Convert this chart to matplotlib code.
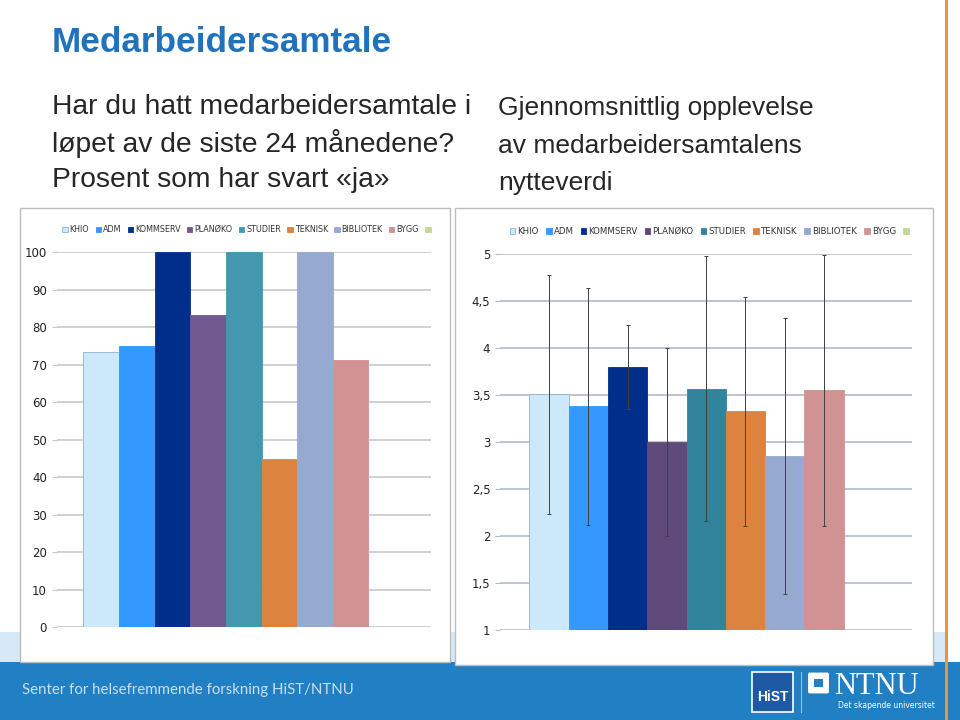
import numpy as np
import matplotlib.pyplot as plt
from matplotlib.patches import Rectangle, Patch, FancyBboxPatch
from matplotlib.ticker import FuncFormatter

W, H = 960, 720

categories = ['KHIO', 'ADM', 'KOMMSERV', 'PLANØKO', 'STUDIER', 'TEKNISK', 'BIBLIOTEK', 'BYGG', '']
pct_yes  = [73.3, 75.0, 100, 83.3, 100, 44.9, 100, 71.4, np.nan]
mean_use = [3.51, 3.38, 3.80, 3.00, 3.57, 3.33, 2.85, 3.55, np.nan]
sd_use   = [1.27, 1.26, 0.45, 1.00, 1.41, 1.22, 1.47, 1.44, np.nan]

colors1 = ['#cce8fb', '#3399ff', '#002e8a', '#725a91', '#4398b0', '#dc843f', '#95a9d1', '#d09292', '#c3d69b']
colors2 = ['#cce8fb', '#3399ff', '#002e8a', '#604a7b', '#31849b', '#dc843f', '#95a9d1', '#d09292', '#c3d69b']

narrow = ['Liberation Sans Narrow', 'DejaVu Sans']
plt.rcParams['font.family'] = ['Liberation Sans', 'DejaVu Sans']


def fx(x):
    return x / W


def fy(y):
    return 1 - y / H


fig = plt.figure(figsize=(9.6, 7.2), dpi=100)
fig.patch.set_facecolor('white')

# background bands
fig.add_artist(Rectangle((0, fy(662)), fx(945), (662 - 632) / H, transform=fig.transFigure,
                         facecolor='#d4e8f7', edgecolor='none', zorder=-3))
fig.add_artist(Rectangle((0, 0), 1, (720 - 662) / H, transform=fig.transFigure,
                         facecolor='#2180c4', edgecolor='none', zorder=-3))
fig.add_artist(Rectangle((fx(944.5), 0), 3 / W, 1, transform=fig.transFigure,
                         facecolor='#f0913a', edgecolor='none', zorder=5))

# chart frames
for x0, x1, y0, y1 in [(20, 450, 208, 662), (455, 933, 208, 665)]:
    fig.add_artist(Rectangle((fx(x0), fy(y1)), (x1 - x0) / W, (y1 - y0) / H, transform=fig.transFigure,
                             facecolor='white', edgecolor='#bdbdbd', lw=1, zorder=-2))

# texts
fig.text(fx(52), fy(42), 'Medarbeidersamtale', fontsize=25.3, weight='bold', color='#1f72bb', va='center')
left_lines = ['Har du hatt medarbeidersamtale i', 'løpet av de siste 24 månedene?', 'Prosent som har svart «ja»']
for s, y in zip(left_lines, [107, 143, 180]):
    fig.text(fx(52), fy(y), s, fontsize=20.3, color='#262626', va='center')
right_lines = ['Gjennomsnittlig opplevelse', 'av medarbeidersamtalens', 'nytteverdi']
for s, y in zip(right_lines, [108, 146, 183]):
    fig.text(fx(498), fy(y), s, fontsize=19, color='#262626', va='center')

x = np.arange(len(categories))


def style(ax, gridc, cols, legsize):
    ax.set_facecolor('white')
    for sp in ax.spines.values():
        sp.set_visible(False)
    ax.set_xticks([])
    ax.set_xlim(-1.25, 9.25)
    ax.grid(axis='y', color=gridc, lw=1.2)
    ax.set_axisbelow(True)
    ax.tick_params(axis='y', length=3.5, color=gridc, labelsize=8.5, pad=3.5, labelcolor='#222222')
    for lab in ax.get_yticklabels():
        lab.set_family(narrow)
    handles = [Patch(facecolor=c, edgecolor='#8fb4cc' if i == 0 else c, lw=0.6)
               for i, c in enumerate(cols)]
    leg = ax.legend(handles, categories, ncol=9, loc='center', bbox_to_anchor=(0.51, 1.06),
                    frameon=False, handlelength=0.65, handleheight=0.65, handletextpad=0.25,
                    columnspacing=0.8, prop={'family': narrow, 'size': legsize})
    for t in leg.get_texts():
        t.set_color('#333333')


# chart 1
ax1 = fig.add_axes([fx(56.7), fy(627.3), 374 / W, 375 / H])
ax1.bar(x, pct_yes, width=1.0, color=colors1, edgecolor=['#8fb4cc'] + colors1[1:], lw=0.6)
ax1.set_ylim(0, 100)
ax1.set_yticks(np.arange(0, 101, 10))
style(ax1, '#c8c8c8', colors1, 5.8)

# chart 2
ax2 = fig.add_axes([fx(500), fy(630), 412.3 / W, 375.7 / H])
ax2.bar(x, [m - 1 for m in mean_use], bottom=1, width=1.0, color=colors2,
        edgecolor=['#8fb4cc'] + colors2[1:], lw=0.6)
ax2.errorbar(x[:8], mean_use[:8], yerr=sd_use[:8], fmt='none', ecolor='#404040',
             elinewidth=0.7, capsize=1.5, capthick=0.7)
ax2.set_ylim(1, 5)
ax2.set_yticks(np.arange(1, 5.01, 0.5))
ax2.yaxis.set_major_formatter(FuncFormatter(lambda v, p: ('%g' % v).replace('.', ',')))
style(ax2, '#b0bcc8', colors2, 6.25)

# footer
fig.text(fx(22), fy(690), 'Senter for helsefremmende forskning HiST/NTNU', fontsize=10.8,
         family=['Lato', 'DejaVu Sans'], color='#c9def0', va='center')
fig.add_artist(Rectangle((fx(752), fy(712)), 41 / W, 40 / H, transform=fig.transFigure,
                         facecolor='#1d5aa3', edgecolor='white', lw=1.2, zorder=3))
fig.text(fx(772.5), fy(697), 'HiST', fontsize=10, weight='bold', color='white', ha='center', va='center',
         zorder=4)
fig.add_artist(plt.Line2D([fx(801), fx(801)], [fy(672), fy(712)], transform=fig.transFigure,
                          color='#9cc4e4', lw=0.8, zorder=3))
fig.add_artist(FancyBboxPatch((fx(810), fy(692)), 17 / W, 18 / H, boxstyle='round,pad=0.002',
                              transform=fig.transFigure, facecolor='white', edgecolor='none', zorder=3))
fig.add_artist(Rectangle((fx(814), fy(687)), 9 / W, 8 / H, transform=fig.transFigure,
                         facecolor='#2180c4', edgecolor='none', zorder=4))
fig.text(fx(834), fy(686), 'NTNU', fontsize=22, family=['Liberation Serif', 'DejaVu Serif'],
         color='white', va='center')
fig.text(fx(935), fy(705), 'Det skapende universitet', fontsize=5.5, color='white', ha='right', va='center',
         family=narrow)

fig.savefig('out.png', dpi=100)
